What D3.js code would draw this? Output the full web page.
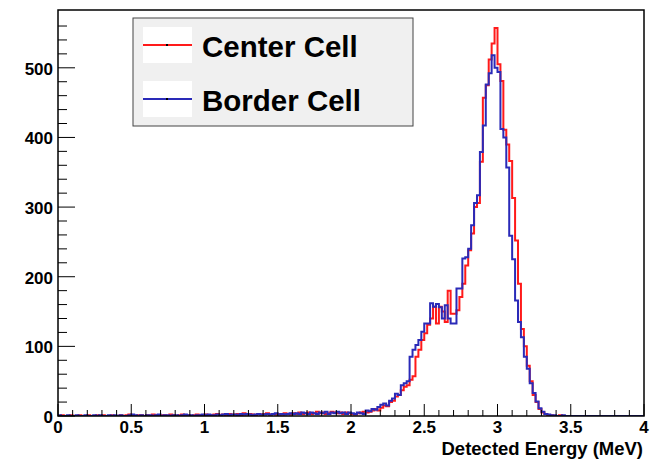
<!DOCTYPE html>
<html>
<head>
<meta charset="utf-8">
<script src="https://cdn.jsdelivr.net/npm/d3@7"></script>
<style>
  body { margin: 0; background: #fff; }
  text { font-family: "Liberation Sans", Arial, sans-serif; font-weight: bold; }
</style>
</head>
<body>
<div id="chart"></div>
<script>
// histogram binning: 200 bins of 0.02 MeV from 0 to 4 MeV
const energyMin = 0;
const binWidth = 0.02;

// counts per bin, Center Cell (red)
const centerCell = [
  0, 1, 0, 0, 1, 0, 0, 1, 0, 0,
  1, 0, 0, 1, 0, 1, 0, 0, 1, 0,
  0, 1, 0, 1, 2, 1, 0, 1, 1, 0,
  1, 0, 2, 1, 0, 1, 1, 0, 2, 1,
  0, 1, 2, 1, 1, 0, 1, 2, 1, 1,
  2, 1, 1, 2, 3, 1, 2, 1, 3, 2,
  2, 3, 1, 4, 2, 3, 2, 1, 3, 2,
  3, 4, 2, 3, 2, 3, 2, 4, 3, 2,
  4, 3, 5, 3, 4, 5, 3, 4, 6, 4,
  5, 3, 4, 6, 5, 4, 5, 3, 5, 4,
  3, 2, 4, 5, 6, 5, 6, 8, 10, 8,
  12, 15, 14, 20, 22, 28, 30, 37, 42, 44,
  52, 57, 85, 95, 109, 119, 131, 140, 157, 133,
  157, 150, 135, 180, 147, 147, 152, 171, 190, 216,
  238, 262, 300, 306, 365, 457, 475, 512, 535, 557,
  505, 481, 411, 390, 366, 313, 252, 190, 125, 100,
  72, 50, 30, 20, 10, 5, 3, 1, 1, 0,
  0, 1, 0, 0, 0, 0, 0, 0, 0, 0,
  0, 0, 0, 0, 0, 0, 0, 0, 0, 0,
  0, 0, 0, 0, 0, 0, 0, 0, 0, 0
];

// counts per bin, Border Cell (blue)
const borderCell = [
  1, 0, 0, 1, 0, 0, 1, 0, 0, 1,
  0, 0, 1, 0, 1, 0, 0, 1, 0, 1,
  0, 1, 0, 0, 1, 2, 1, 0, 1, 0,
  1, 1, 0, 1, 2, 0, 1, 1, 0, 1,
  1, 0, 1, 2, 1, 1, 0, 1, 1, 2,
  1, 2, 1, 1, 2, 1, 2, 3, 1, 2,
  2, 1, 3, 2, 3, 2, 1, 2, 3, 2,
  2, 3, 2, 3, 4, 2, 3, 2, 3, 4,
  3, 4, 3, 5, 4, 3, 5, 4, 3, 5,
  4, 6, 3, 5, 4, 6, 4, 5, 3, 5,
  4, 3, 5, 4, 3, 8, 7, 10, 9, 13,
  16, 18, 15, 22, 25, 32, 30, 44, 47, 50,
  85, 95, 102, 109, 121, 133, 133, 162, 157, 161,
  156, 140, 159, 140, 133, 133, 183, 183, 226, 228,
  240, 274, 306, 317, 379, 417, 476, 492, 518, 500,
  494, 412, 400, 357, 259, 225, 166, 135, 113, 85,
  68, 47, 33, 21, 11, 6, 3, 2, 1, 1,
  0, 0, 1, 0, 0, 0, 0, 0, 0, 0,
  0, 0, 0, 0, 0, 0, 0, 0, 0, 0,
  0, 0, 0, 0, 0, 0, 0, 0, 0, 0
];

const xTicks = [0, 0.5, 1, 1.5, 2, 2.5, 3, 3.5, 4];
const yTicks = [0, 100, 200, 300, 400, 500];
const seriesNames = ["Center Cell", "Border Cell"];
const seriesColors = ["#ff1a1a", "#2a2ab8"];

const W = 651, H = 459;
const frame = { left: 58, right: 644, top: 10, bottom: 416 };

const svg = d3.select("#chart").append("svg")
  .attr("width", W).attr("height", H);

const x = d3.scaleLinear().domain([0, 4]).range([frame.left, frame.right]);
const y = d3.scaleLinear().domain([0, 583]).range([frame.bottom, frame.top]);

svg.append("clipPath").attr("id", "plot")
  .append("rect").attr("x", frame.left).attr("y", frame.top)
  .attr("width", frame.right - frame.left).attr("height", frame.bottom - frame.top);

// histogram outlines
function histPoints(counts) {
  const pts = [[energyMin, 0]];
  counts.forEach((c, i) => pts.push([energyMin + i * binWidth, c]));
  const end = energyMin + counts.length * binWidth;
  pts.push([end, counts[counts.length - 1]]);
  return pts;
}

const step = d3.line()
  .x(d => x(d[0]))
  .y(d => y(d[1]))
  .curve(d3.curveStepAfter);

[centerCell, borderCell].forEach((counts, k) => {
  svg.append("path")
    .datum(histPoints(counts))
    .attr("clip-path", "url(#plot)")
    .attr("fill", "none")
    .attr("stroke", seriesColors[k])
    .attr("stroke-width", 2)
    .attr("d", step);
});

// frame
svg.append("rect")
  .attr("x", frame.left).attr("y", frame.top)
  .attr("width", frame.right - frame.left).attr("height", frame.bottom - frame.top)
  .attr("fill", "none").attr("stroke", "#000").attr("stroke-width", 1.5);

// x axis: ticks pointing up
const xAxis = svg.append("g").attr("transform", `translate(0,${frame.bottom})`);
xAxis.selectAll("line")
  .data(d3.range(0, 41).map(i => i / 10))
  .enter().append("line")
  .attr("x1", d => x(d)).attr("x2", d => x(d))
  .attr("y1", 0).attr("y2", (d, i) => (i % 5 === 0 ? -12 : -6))
  .attr("stroke", "#000").attr("stroke-width", 1);
xAxis.selectAll("text")
  .data(xTicks)
  .enter().append("text")
  .attr("x", d => x(d)).attr("y", 17)
  .attr("text-anchor", "middle")
  .style("font-size", "17px")
  .text(d => d);

// y axis: ticks pointing right
const yAxis = svg.append("g").attr("transform", `translate(${frame.left},0)`);
yAxis.selectAll("line")
  .data(d3.range(0, 29).map(i => i * 20))
  .enter().append("line")
  .attr("y1", d => y(d)).attr("y2", d => y(d))
  .attr("x1", 0).attr("x2", (d, i) => (i % 5 === 0 ? 17 : 9))
  .attr("stroke", "#000").attr("stroke-width", 1);
yAxis.selectAll("text")
  .data(yTicks)
  .enter().append("text")
  .attr("x", -5).attr("y", d => y(d) + 7)
  .attr("text-anchor", "end")
  .style("font-size", "17px")
  .text(d => d);

svg.append("text")
  .attr("x", 643).attr("y", 455)
  .attr("text-anchor", "end")
  .style("font-size", "18.5px")
  .text("Detected Energy (MeV)");

// legend
const legend = svg.append("g").attr("transform", "translate(133,18)");
legend.append("rect")
  .attr("width", 280).attr("height", 108)
  .attr("fill", "#f0f0f0").attr("stroke", "#444").attr("stroke-width", 1);

seriesNames.forEach((name, i) => {
  const g = legend.append("g").attr("transform", `translate(0,${i * 54})`);
  g.append("rect").attr("x", 10).attr("y", 9)
    .attr("width", 49).attr("height", 36).attr("fill", "#fff");
  g.append("line").attr("x1", 10).attr("x2", 59)
    .attr("y1", 27).attr("y2", 27)
    .attr("stroke", seriesColors[i]).attr("stroke-width", 2);
  g.append("rect").attr("x", 33).attr("y", 26)
    .attr("width", 2).attr("height", 2).attr("fill", "#000");
  g.append("text").attr("x", 69).attr("y", 39)
    .style("font-size", "29.5px")
    .text(name);
});
</script>
</body>
</html>
